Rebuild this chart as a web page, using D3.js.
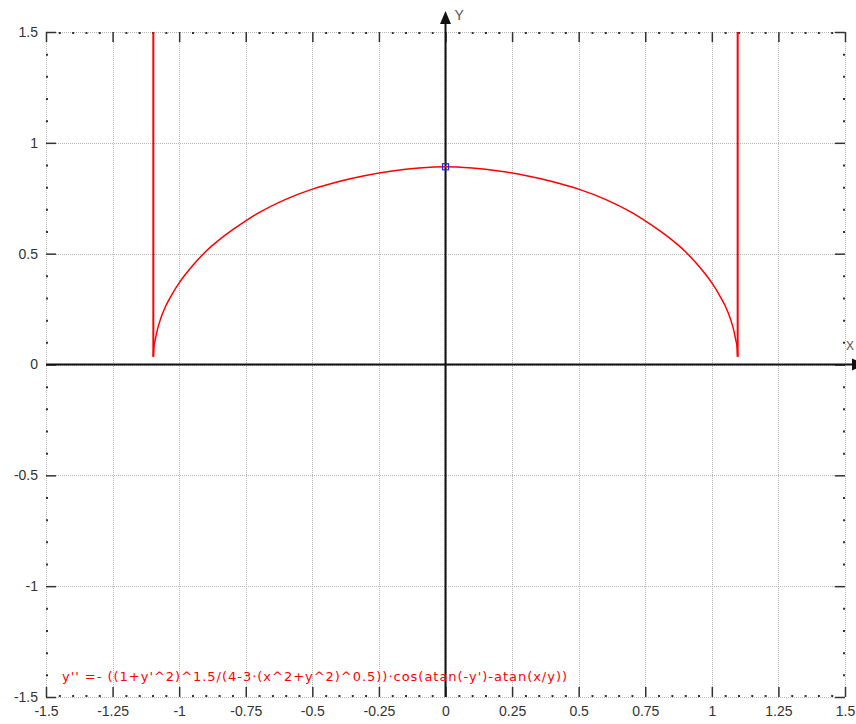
<!DOCTYPE html>
<html><head><meta charset="utf-8">
<script src="https://cdn.jsdelivr.net/npm/d3@7"></script>
<style>
html,body{margin:0;padding:0;background:#fff;}
svg{display:block;}
</style></head>
<body>
<svg id="chart" width="856" height="724"></svg>
<script>
// ---- data ----
const xDomain = [-1.5, 1.5];
const yDomain = [-1.5, 1.5];
const xTicks = [-1.5, -1.25, -1, -0.75, -0.5, -0.25, 0, 0.25, 0.5, 0.75, 1, 1.25, 1.5];
const xTickLabels = ["-1.5", "-1.25", "-1", "-0.75", "-0.5", "-0.25", "0", "0.25", "0.5", "0.75", "1", "1.25", "1.5"];
const yTicks = [-1.5, -1, -0.5, 0, 0.5, 1, 1.5];
const yTickLabels = ["-1.5", "-1", "-0.5", "0", "0.5", "1", "1.5"];
const xMinorTicks = [-1.45,-1.4,-1.35,-1.3,-1.2,-1.15,-1.1,-1.05,-0.95,-0.9,-0.85,-0.8,-0.7,-0.65,-0.6,-0.55,-0.45,-0.4,-0.35,-0.3,-0.2,-0.15,-0.1,-0.05,0.05,0.1,0.15,0.2,0.3,0.35,0.4,0.45,0.55,0.6,0.65,0.7,0.8,0.85,0.9,0.95,1.05,1.1,1.15,1.2,1.3,1.35,1.4,1.45];
const yMinorTicks = [-1.4,-1.3,-1.2,-1.1,-0.9,-0.8,-0.7,-0.6,-0.4,-0.3,-0.2,-0.1,0.1,0.2,0.3,0.4,0.6,0.7,0.8,0.9,1.1,1.2,1.3,1.4];

// solution curve: vertical jumps at both ends, arc in between
const jumpLeft = [[-1.097, 1.7], [-1.097, 0.035]];
const jumpRight = [[1.097, 0.035], [1.097, 1.7]];
const arcX = [-1.097, -1.095, -1.09, -1.08, -1.07, -1.05, -1.03, -1.0, -0.95, -0.9, -0.85, -0.8, -0.75, -0.7, -0.6, -0.5, -0.4, -0.3, -0.2, -0.1, 0,
              0.1, 0.2, 0.3, 0.4, 0.5, 0.6, 0.7, 0.75, 0.8, 0.85, 0.9, 0.95, 1.0, 1.03, 1.05, 1.07, 1.08, 1.09, 1.095, 1.097];
const arcY = [0.035, 0.075, 0.110, 0.165, 0.205, 0.265, 0.310, 0.368, 0.445, 0.510, 0.562, 0.607, 0.648, 0.685, 0.745, 0.791, 0.826, 0.853, 0.873, 0.886, 0.892,
              0.886, 0.873, 0.853, 0.826, 0.791, 0.745, 0.685, 0.648, 0.607, 0.562, 0.510, 0.445, 0.368, 0.310, 0.265, 0.205, 0.165, 0.110, 0.075, 0.035];
const startPoint = [0, 0.892];
const formula = "y'' =- ((1+y'^2)^1.5/(4-3\u00b7(x^2+y^2)^0.5))\u00b7cos(atan(-y')-atan(x/y))";

// ---- drawing ----
const svg = d3.select("#chart");
const L = 46, R = 845, T = 32, B = 697;
const x = d3.scaleLinear().domain(xDomain).range([L, R]);
const y = d3.scaleLinear().domain(yDomain).range([B, T]);

// grid (dotted)
const grid = svg.append("g");
grid.append("g").attr("transform", `translate(0,${B})`)
  .call(d3.axisBottom(x).tickValues(xTicks).tickSize(-(B - T)).tickFormat(""))
  .call(g => g.select(".domain").remove())
  .call(g => g.selectAll("line").attr("stroke", "#b8b8b8").attr("stroke-dasharray", "1,1").attr("shape-rendering", "crispEdges"));
grid.append("g").attr("transform", `translate(${L},0)`)
  .call(d3.axisLeft(y).tickValues(yTicks).tickSize(-(R - L)).tickFormat(""))
  .call(g => g.select(".domain").remove())
  .call(g => g.selectAll("line").attr("stroke", "#b8b8b8").attr("stroke-dasharray", "1,1").attr("shape-rendering", "crispEdges"));

// major ticks (inward) on all four borders
const tickCol = "#333";
function styleTicks(g, w) {
  g.select(".domain").remove();
  g.selectAll("line").attr("stroke", tickCol).attr("stroke-width", w);
}
svg.append("g").attr("transform", `translate(0,${B})`)
  .call(d3.axisBottom(x).tickValues(xTicks).tickSize(-10).tickFormat("")).call(g => styleTicks(g, 1.5));
svg.append("g").attr("transform", `translate(0,${T})`)
  .call(d3.axisTop(x).tickValues(xTicks).tickSize(-10).tickFormat("")).call(g => styleTicks(g, 1.5));
svg.append("g").attr("transform", `translate(${L},0)`)
  .call(d3.axisLeft(y).tickValues(yTicks).tickSize(-10).tickFormat("")).call(g => styleTicks(g, 1.5));
svg.append("g").attr("transform", `translate(${R},0)`)
  .call(d3.axisRight(y).tickValues(yTicks).tickSize(-10).tickFormat("")).call(g => styleTicks(g, 1.5));
// minor ticks
svg.append("g").attr("transform", `translate(0,${B})`)
  .call(d3.axisBottom(x).tickValues(xMinorTicks).tickSize(-2).tickFormat("")).call(g => styleTicks(g, 2));
svg.append("g").attr("transform", `translate(0,${T})`)
  .call(d3.axisTop(x).tickValues(xMinorTicks).tickSize(-2).tickFormat("")).call(g => styleTicks(g, 2));
svg.append("g").attr("transform", `translate(${L},0)`)
  .call(d3.axisLeft(y).tickValues(yMinorTicks).tickSize(-2).tickFormat("")).call(g => styleTicks(g, 2));
svg.append("g").attr("transform", `translate(${R},0)`)
  .call(d3.axisRight(y).tickValues(yMinorTicks).tickSize(-2).tickFormat("")).call(g => styleTicks(g, 2));

// tick labels
const fontFam = "'Liberation Sans', Arial, sans-serif";
svg.append("g").attr("transform", `translate(0,${B})`)
  .call(d3.axisBottom(x).tickValues(xTicks).tickSize(0).tickPadding(9).tickFormat((d, i) => xTickLabels[i]))
  .call(g => g.select(".domain").remove())
  .call(g => g.selectAll("text").attr("fill", "#333").style("font-family", fontFam).style("font-size", "14px"));
svg.append("g").attr("transform", `translate(${L},0)`)
  .call(d3.axisLeft(y).tickValues(yTicks).tickSize(0).tickPadding(8).tickFormat((d, i) => yTickLabels[i]))
  .call(g => g.select(".domain").remove())
  .call(g => g.selectAll("text").attr("fill", "#333").style("font-family", fontFam).style("font-size", "14px"));

// main axes with arrows
const axCol = "#111";
svg.append("line").attr("x1", L).attr("x2", 852).attr("y1", y(0)).attr("y2", y(0))
  .attr("stroke", axCol).attr("stroke-width", 2);
svg.append("line").attr("x1", x(0)).attr("x2", x(0)).attr("y1", 22).attr("y2", B)
  .attr("stroke", axCol).attr("stroke-width", 2);
svg.append("path").attr("d", `M${x(0)},11 L${x(0) - 5.5},24 L${x(0) + 5.5},24 Z`).attr("fill", axCol);
svg.append("path").attr("d", `M865,${y(0)} L852,${y(0) - 6} L852,${y(0) + 6} Z`).attr("fill", axCol);
svg.append("text").attr("x", x(0) + 9).attr("y", 20).text("Y")
  .attr("fill", "#555").style("font-family", fontFam).style("font-size", "14px");
svg.append("text").attr("x", 846).attr("y", 350).text("X")
  .attr("fill", "#555").style("font-family", fontFam).style("font-size", "12px");

// clip for curve
svg.append("clipPath").attr("id", "clip").append("rect")
  .attr("x", L).attr("y", T).attr("width", R - L).attr("height", B - T);

const lineStraight = d3.line().x(d => x(d[0])).y(d => y(d[1]));
const curveG = svg.append("g").attr("clip-path", "url(#clip)")
  .attr("fill", "none").attr("stroke", "#ff0000").attr("stroke-width", 1.5);
curveG.append("path").attr("d", lineStraight(jumpLeft)).attr("stroke-width", 2);
curveG.append("path").attr("d", lineStraight(jumpRight)).attr("stroke-width", 2);
const arcPts = arcX.map((v, i) => [v, arcY[i]]);
curveG.append("path").datum(arcPts)
  .attr("d", d3.line().x(d => x(d[0])).y(d => y(d[1])).curve(d3.curveMonotoneX));

// start point marker
svg.append("rect")
  .attr("x", x(startPoint[0]) - 3).attr("y", y(startPoint[1]) - 3)
  .attr("width", 6).attr("height", 6)
  .attr("fill", "none").attr("stroke", "#2020ff").attr("stroke-width", 1.2);

// equation text
svg.append("text").attr("x", 62).attr("y", 681).text(formula)
  .attr("textLength", 505).attr("lengthAdjust", "spacing")
  .attr("fill", "#ff0000").style("font-family", "'DejaVu Sans', Verdana, sans-serif").style("font-size", "13px");
</script>
</body></html>
